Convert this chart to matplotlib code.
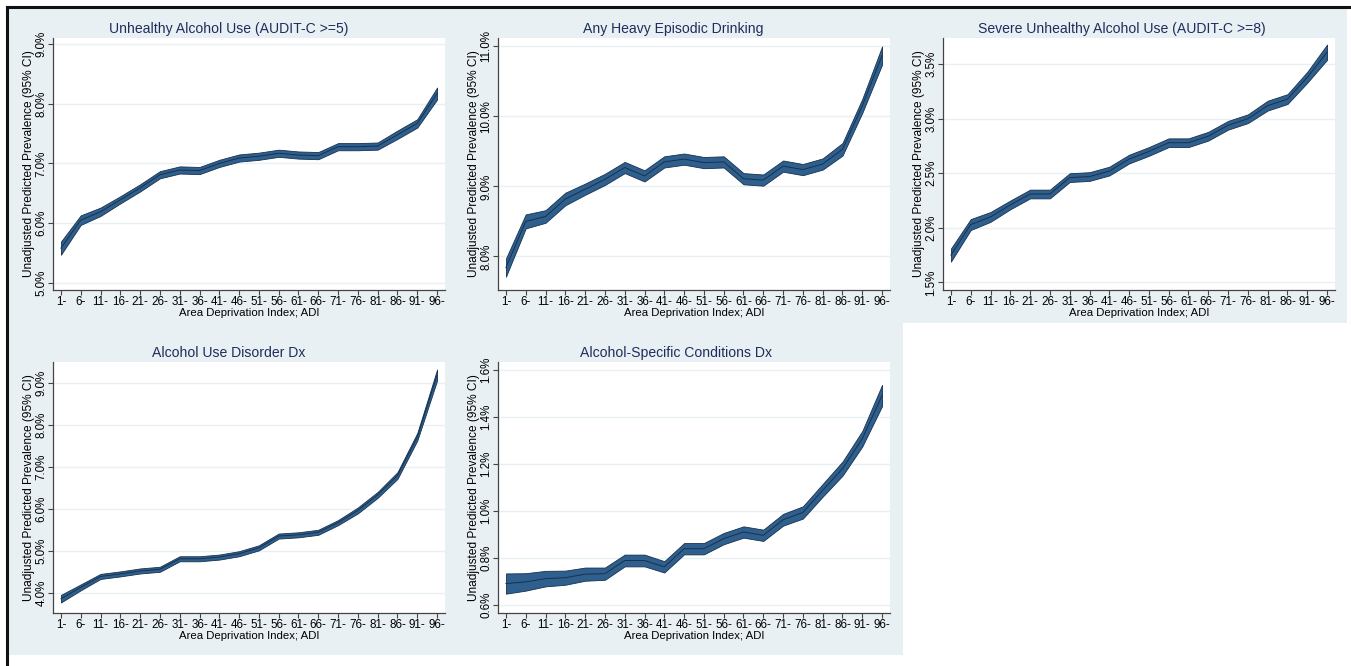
import numpy as np
import matplotlib.pyplot as plt
from matplotlib.patches import Rectangle
from matplotlib.lines import Line2D
from matplotlib.ticker import FuncFormatter

plt.rcParams['font.family'] = ['Liberation Sans', 'DejaVu Sans']

# ADI categories (percentile groups)
adi_labels = ["1-", "6-", "11-", "16-", "21-", "26-", "31-", "36-", "41-", "46-",
              "51-", "56-", "61-", "66-", "71-", "76-", "81-", "86-", "91-", "96-"]

# predicted prevalence (%) and half-width of the 95% CI
audit5 = [5.58, 6.05, 6.19, 6.39, 6.59, 6.81, 6.89, 6.88, 7.00, 7.09,
          7.12, 7.17, 7.14, 7.13, 7.28, 7.28, 7.29, 7.48, 7.67, 8.17]
audit5_ci = [0.11, 0.08, 0.07, 0.06, 0.06, 0.06, 0.06, 0.06, 0.06, 0.06,
             0.06, 0.06, 0.06, 0.06, 0.06, 0.06, 0.06, 0.07, 0.07, 0.10]

heavy = [7.84, 8.50, 8.57, 8.82, 8.96, 9.10, 9.27, 9.15, 9.35, 9.39,
         9.34, 9.35, 9.11, 9.09, 9.29, 9.24, 9.32, 9.53, 10.15, 10.87]
heavy_ci = [0.13, 0.10, 0.09, 0.09, 0.08, 0.08, 0.08, 0.08, 0.08, 0.08,
            0.08, 0.08, 0.08, 0.08, 0.08, 0.08, 0.08, 0.09, 0.10, 0.13]

audit8 = [1.75, 2.03, 2.10, 2.21, 2.31, 2.31, 2.46, 2.47, 2.52, 2.63,
          2.70, 2.78, 2.78, 2.84, 2.94, 3.00, 3.12, 3.18, 3.38, 3.61]
audit8_ci = [0.06, 0.05, 0.045, 0.04, 0.04, 0.04, 0.04, 0.04, 0.04, 0.04,
             0.04, 0.04, 0.04, 0.04, 0.04, 0.04, 0.045, 0.045, 0.05, 0.07]

aud_dx = [3.86, 4.13, 4.39, 4.45, 4.52, 4.56, 4.81, 4.81, 4.85, 4.93,
          5.07, 5.35, 5.38, 5.44, 5.67, 5.96, 6.33, 6.79, 7.71, 9.18]
aud_dx_ci = [0.09, 0.07, 0.06, 0.06, 0.06, 0.06, 0.06, 0.06, 0.06, 0.06,
             0.06, 0.06, 0.06, 0.06, 0.06, 0.07, 0.07, 0.08, 0.09, 0.13]

asc_dx = [0.692, 0.699, 0.713, 0.717, 0.732, 0.734, 0.790, 0.790, 0.763, 0.840,
          0.840, 0.883, 0.911, 0.897, 0.963, 0.994, 1.088, 1.180, 1.307, 1.491]
asc_dx_ci = [0.043, 0.037, 0.033, 0.030, 0.028, 0.026, 0.025, 0.025, 0.024, 0.024,
             0.024, 0.024, 0.024, 0.024, 0.025, 0.026, 0.027, 0.030, 0.033, 0.045]

titles = ["Unhealthy Alcohol Use (AUDIT-C >=5)", "Any Heavy Episodic Drinking",
          "Severe Unhealthy Alcohol Use (AUDIT-C >=8)", "Alcohol Use Disorder Dx",
          "Alcohol-Specific Conditions Dx"]
series = [audit5, heavy, audit8, aud_dx, asc_dx]
cis = [audit5_ci, heavy_ci, audit8_ci, aud_dx_ci, asc_dx_ci]
yticks = [[5, 6, 7, 8, 9], [8, 9, 10, 11], [1.5, 2, 2.5, 3, 3.5],
          [4, 5, 6, 7, 8, 9], [0.6, 0.8, 1.0, 1.2, 1.4, 1.6]]
ylims = [(4.88, 9.10), (7.52, 11.12), (1.43, 3.74), (3.52, 9.49), (0.567, 1.633)]

W, H = 1351, 666
fig = plt.figure(figsize=(W / 100, H / 100), dpi=100)
fig.patch.set_facecolor('white')

def frac(l, t, r, b):
    return [l / W, 1 - b / H, (r - l) / W, (b - t) / H]

BG = '#e9f0f3'
FILL = '#2f5f8c'
EDGE = '#17314f'
TITLE = '#1f2d5c'
TXT = 8.4

# panel regions (graph background) and plot regions, in pixels
panels = [(9, 9, 449, 323), (449, 9, 897, 323), (897, 9, 1347, 323),
          (9, 323, 449, 655), (449, 323, 903, 655)]
plots = [(53, 38, 445, 290), (498, 38, 890, 290), (943, 38, 1335, 290),
         (53, 362, 445, 613), (498, 362, 890, 613)]
title_y = [29, 29, 29, 353, 353]

for (l, t, r, b) in panels:
    fx = frac(l, t, r, b)
    fig.patches.append(Rectangle((fx[0], fx[1]), fx[2], fx[3], transform=fig.transFigure,
                                 facecolor=BG, edgecolor='none', zorder=-1))

# outer frame (top and left edges)
fig.lines.append(Line2D([7 / W, 7 / W], [0, 1 - 7 / H], transform=fig.transFigure,
                        color='#111111', lw=2.2))
fig.lines.append(Line2D([7 / W, 1], [1 - 7 / H, 1 - 7 / H], transform=fig.transFigure,
                        color='#111111', lw=2.2))

x = np.arange(len(adi_labels))

for i in range(5):
    ax = fig.add_axes(frac(*plots[i]))
    ax.set_zorder(1)
    ax.set_facecolor('white')
    y = np.array(series[i])
    ci = np.array(cis[i])
    ax.fill_between(x, y - ci, y + ci, facecolor=FILL, edgecolor=EDGE, lw=0.6, zorder=3)
    ax.plot(x, y, color=EDGE, lw=0.7, zorder=4)

    ax.set_xlim(-0.4, len(x) - 0.6)
    ax.set_ylim(*ylims[i])
    ax.set_xticks(x)
    ax.set_xticklabels(adi_labels, fontsize=TXT)
    ax.set_yticks(yticks[i])
    ax.yaxis.set_major_formatter(FuncFormatter(lambda v, p: f"{v:.1f}%"))
    for lab in ax.get_yticklabels():
        lab.set_rotation(90)
        lab.set_va('center')
        lab.set_fontsize(TXT)
    ax.grid(axis='y', color=BG, lw=1.0, zorder=1)
    ax.grid(axis='x', visible=False)
    ax.tick_params(axis='both', direction='out', length=3.5, width=0.8, color='#444444', pad=0.5)
    for side in ['top', 'right']:
        ax.spines[side].set_visible(False)
    for side in ['left', 'bottom']:
        ax.spines[side].set_color('#444444')
        ax.spines[side].set_linewidth(0.9)
    ax.set_xlabel("Area Deprivation Index; ADI", fontsize=8.2, labelpad=0)
    ax.set_ylabel("Unadjusted Predicted Prevalence (95% CI)", fontsize=8.6, labelpad=0.5)

    l, t, r, b = panels[i]
    fig.text((l + r) / 2 / W, 1 - title_y[i] / H, titles[i], ha='center', va='center',
             fontsize=10.1, color=TITLE)

fig.savefig("out.png", dpi=100)
